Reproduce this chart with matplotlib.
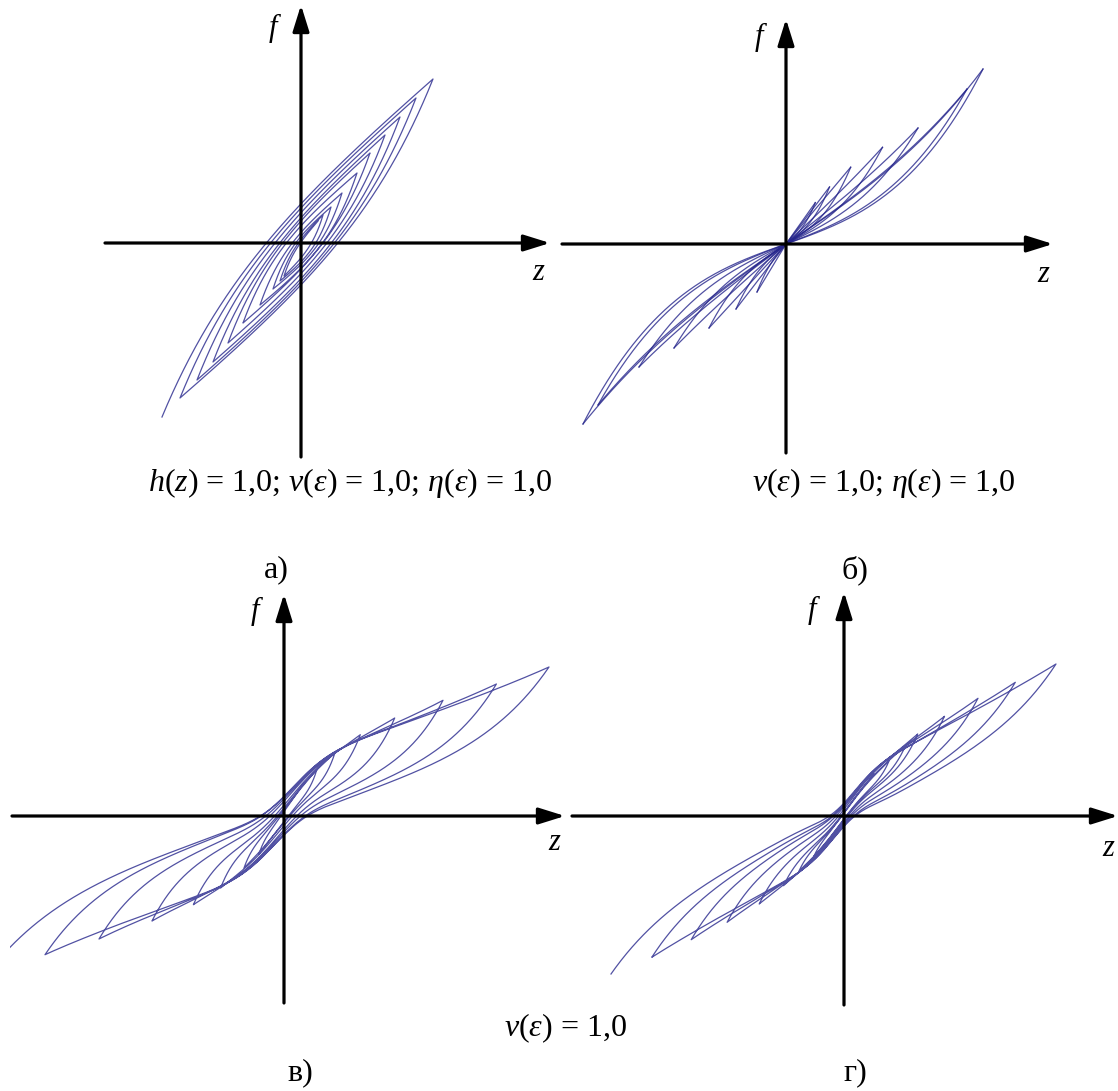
import numpy as np
import matplotlib
import matplotlib.pyplot as plt

matplotlib.use('Agg')

W, H = 1118, 1091
LINE = '#26268c'

plt.rcParams['font.family'] = ['Liberation Serif', 'DejaVu Serif']
plt.rcParams['mathtext.fontset'] = 'custom'
plt.rcParams['mathtext.rm'] = 'Liberation Serif'
plt.rcParams['mathtext.it'] = 'Liberation Serif:italic'

# --- panel a: nested loops around a straight backbone (units of 100 px from origin)
a_up_z = [1.32, 1.15, 0.99, 0.84, 0.69, 0.56, 0.41, 0.30, 0.22, 0.17]
a_up_f = [1.64, 1.45, 1.26, 1.08, 0.90, 0.70, 0.50, 0.36, 0.28, 0.22]
a_lo_z = [-1.39, -1.21, -1.04, -0.88, -0.73, -0.58, -0.41, -0.28, -0.21, -0.17]
a_lo_f = [-1.74, -1.55, -1.37, -1.19, -1.00, -0.80, -0.62, -0.46, -0.38, -0.33]
a_width = [0.44, 0.40, 0.36, 0.31, 0.27, 0.23, 0.18, 0.14, 0.10, 0.07]

# --- panel b: petals through the origin (tip, straight-ish branch, stiff branch)
b_up_z = [1.97, 1.81, 1.32, 0.965, 0.647, 0.435, 0.293]
b_up_f = [1.75, 1.55, 1.16, 0.967, 0.768, 0.57, 0.414]
b_up_w1 = [0.25, 0.20, 0.10, 0.05, 0.00, 0.00, 0.00]
b_up_w2 = [0.60, 0.55, 0.45, 0.45, 0.50, 0.45, 0.40]
b_lo_z = [-2.03, -1.88, -1.47, -1.12, -0.77, -0.50, -0.29]
b_lo_f = [-1.80, -1.61, -1.23, -1.04, -0.84, -0.65, -0.48]
b_lo_w1 = [0.20, 0.20, 0.10, 0.05, 0.00, 0.00, 0.00]
b_lo_w2 = [0.60, 0.55, 0.45, 0.40, 0.40, 0.35, 0.30]

# --- panel c: pinched zigzag loops
c_up_z = [2.65, 2.124, 1.59, 1.107, 0.763, 0.509, 0.328, 0.20]
c_up_f = [1.49, 1.32, 1.157, 0.98, 0.813, 0.63, 0.463, 0.33]
c_lo_z = [-3.00, -2.39, -1.85, -1.32, -0.906, -0.634, -0.40, -0.25]
c_lo_f = [-1.62, -1.387, -1.23, -1.05, -0.887, -0.72, -0.52, -0.38]
c_width = [0.42, 0.38, 0.33, 0.28, 0.22, 0.17, 0.12, 0.08]

# --- panel d: tighter pinched zigzag loops
d_up_z = [2.12, 1.713, 1.34, 1.005, 0.737, 0.615, 0.45, 0.30]
d_up_f = [1.52, 1.337, 1.177, 0.997, 0.82, 0.703, 0.55, 0.42]
d_lo_z = [-2.33, -1.922, -1.528, -1.169, -0.848, -0.605, -0.45, -0.30]
d_lo_f = [-1.58, -1.413, -1.237, -1.063, -0.88, -0.697, -0.55, -0.40]
d_width = [0.30, 0.27, 0.24, 0.20, 0.16, 0.12, 0.09, 0.06]


def panel(fig, x0, y0, x1, y1, ox, oy):
    # axes box given in pixels, data unit = 100 px, origin at (ox, oy)
    ax = fig.add_axes([x0 / W, 1 - y1 / H, (x1 - x0) / W, (y1 - y0) / H])
    ax.set_xlim((x0 - ox) / 100, (x1 - ox) / 100)
    ax.set_ylim((oy - y1) / 100, (oy - y0) / 100)
    ax.axis('off')
    ax.patch.set_alpha(0)
    return ax


def draw_axes(ax, zlim, flim, flab, zlab):
    arrow = dict(arrowstyle='-|>,head_length=0.8,head_width=0.25', lw=2.3,
                 color='k', shrinkA=0, shrinkB=0, mutation_scale=20)
    ax.annotate('', xy=(zlim[1], 0), xytext=(zlim[0], 0), arrowprops=arrow,
                annotation_clip=False, zorder=5)
    ax.annotate('', xy=(0, flim[1]), xytext=(0, flim[0]), arrowprops=arrow,
                annotation_clip=False, zorder=5)
    ax.text(*flab, 'f', fontsize=22, style='italic', ha='center', va='center')
    ax.text(*zlab, 'z', fontsize=22, style='italic', ha='center', va='center')


def branch(za, fa, zb, fb, bb, d, k, m, pinch):
    z = np.linspace(za, zb, 400)
    t = (z - za) / (zb - za)
    base = bb(z) + (fa - bb(za)) * (1 - t) + (fb - bb(zb)) * t
    s = (1 - np.exp(-k * t)) * (1 - t) ** m
    s = s / s.max()
    s = s * (1 - pinch[0] * np.exp(-(z / pinch[1]) ** 2))
    sign = 1.0 if zb > za else -1.0
    return z, base + sign * d * s


def spiral(ax, up_z, up_f, lo_z, lo_f, width, bb, k, m, pinch=(0.0, 1.0)):
    zz, ff = [], []
    for i in range(len(up_z)):
        z, f = branch(lo_z[i], lo_f[i], up_z[i], up_f[i], bb, width[i], k, m, pinch)
        zz.append(z); ff.append(f)
        if i + 1 < len(lo_z):
            z, f = branch(up_z[i], up_f[i], lo_z[i + 1], lo_f[i + 1], bb, width[i], k, m, pinch)
            zz.append(z); ff.append(f)
    ax.plot(np.concatenate(zz), np.concatenate(ff), color=LINE, lw=0.9, alpha=0.8)


def petal(ax, zt, ft, w):
    r = np.linspace(0, 1, 200)
    ax.plot(zt * r, ft * ((1 - w) * r + w * r ** 3), color=LINE, lw=0.9, alpha=0.8)


fig = plt.figure(figsize=(W / 100, H / 100), dpi=100)

# a)
ax = panel(fig, 95, 0, 558, 465, 301, 243)
spiral(ax, a_up_z, a_up_f, a_lo_z, a_lo_f, a_width, lambda z: 1.25 * z, 3.0, 1.0)
draw_axes(ax, (-1.96, 2.49), (-2.14, 2.38), (-0.28, 2.15), (2.37, -0.29))

# b)
ax = panel(fig, 558, 0, 1118, 465, 786, 244)
for i in range(len(b_up_z)):
    petal(ax, b_up_z[i], b_up_f[i], b_up_w1[i])
    petal(ax, b_up_z[i], b_up_f[i], b_up_w2[i])
for i in range(len(b_lo_z)):
    petal(ax, b_lo_z[i], b_lo_f[i], b_lo_w1[i])
    petal(ax, b_lo_z[i], b_lo_f[i], b_lo_w2[i])
draw_axes(ax, (-2.24, 2.67), (-2.09, 2.25), (-0.27, 2.07), (2.57, -0.31))

# c)
ax = panel(fig, 10, 585, 568, 1010, 284, 816)
spiral(ax, c_up_z, c_up_f, c_lo_z, c_lo_f, c_width,
       lambda z: 0.5 * z + 0.25 * np.tanh(z / 0.4), 6.0, 1.5, (0.3, 0.4))
draw_axes(ax, (-2.72, 2.81), (-1.87, 2.22), (-0.29, 2.05), (2.70, -0.27))

# d)
ax = panel(fig, 570, 585, 1118, 1010, 844, 816)
spiral(ax, d_up_z, d_up_f, d_lo_z, d_lo_f, d_width,
       lambda z: 0.6 * z + 0.15 * np.tanh(z / 0.3), 6.0, 1.5, (0.5, 0.3))
draw_axes(ax, (-2.72, 2.74), (-1.89, 2.24), (-0.32, 2.06), (2.64, -0.32))

# captions
cap = dict(fontsize=23, ha='center', va='center')
fig.text(350 / W, 1 - 483 / H, r'$\mathit{h(z)}$ = 1,0; $\mathit{v(ε)}$ = 1,0; $\mathit{η(ε)}$ = 1,0', **cap)
fig.text(884 / W, 1 - 483 / H, r'$\mathit{v(ε)}$ = 1,0; $\mathit{η(ε)}$ = 1,0', **cap)
fig.text(565 / W, 1 - 1028 / H, r'$\mathit{v(ε)}$ = 1,0', **cap)
fig.text(276 / W, 1 - 570 / H, 'а)', **cap)
fig.text(855 / W, 1 - 570 / H, 'б)', **cap)
fig.text(300 / W, 1 - 1073 / H, 'в)', **cap)
fig.text(855 / W, 1 - 1073 / H, 'г)', **cap)

fig.savefig('out.png', dpi=100)
